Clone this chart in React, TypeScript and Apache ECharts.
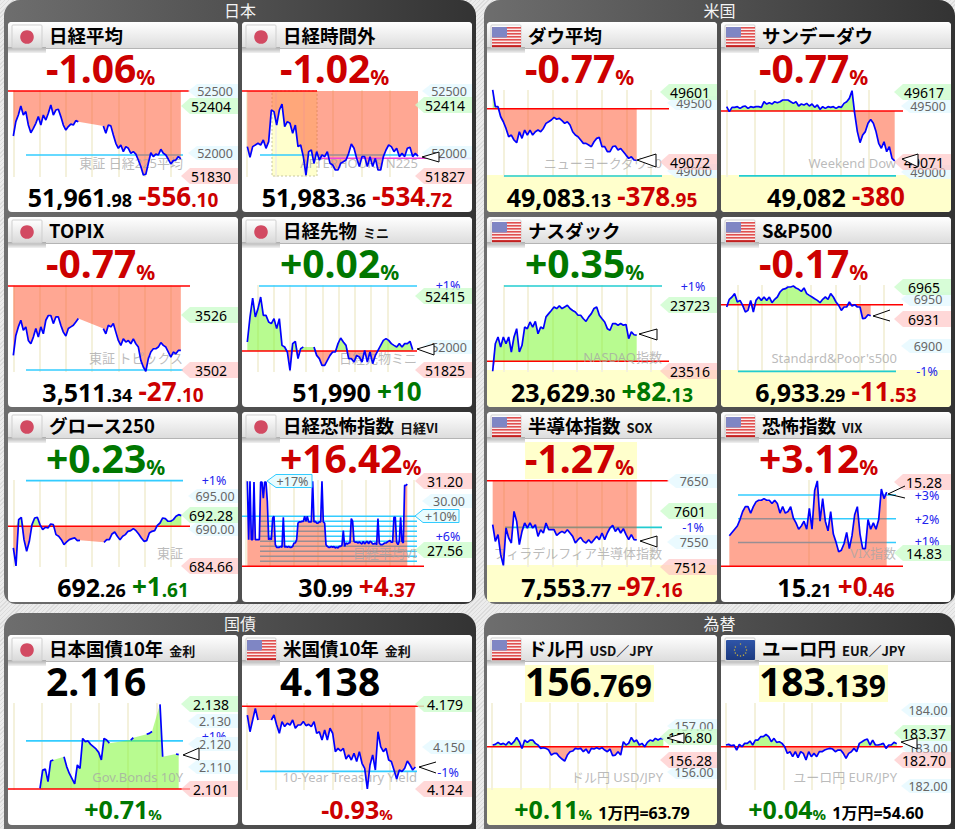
import React, { useEffect, useRef } from "react";
import * as echarts from "echarts";

// ---------- series values (null = no trade in that slot) ----------
const nikkeiValues = [52149,52267,52321,52395,52321,52349,52239,52176,52212,52253,52308,52239,52321,52280,52335,52404,52321,52362,52368,52308,52239,52198,52226,52247,52239,52275,52265,null,null,null,null,null,null,null,null,null,52231,52171,52239,52232,52157,52089,52048,52075,52021,52062,52048,52007,52021,52001,51952,51898,51830,51835,51925,52012,51980,52001,51993,52040,52007,51993,51958,51920,51947,51952,51980,51962];
const nightValues = [52062,51974,52062,52075,52089,52075,52116,52048,52103,52362,52349,52239,52362,52411,52226,52267,52253,52171,52239,52062,52075,51980,51827,52021,52034,51925,52021,51952,51993,51980,52021,51925,51911,51870,51870,51925,51938,51952,52007,52083,52048,51966,51898,51980,51980,51898,51980,51898,51966,51870,51870,51980,52034,52075,52062,52021,52048,51980,52007,51980,52048,52056,51980,52007,51983];
const dowValues = [49601,49477,49477,49403,49366,49317,49256,49268,49232,49212,49293,49244,49305,49268,49305,49268,49293,49305,49293,49317,49354,49366,49379,49398,49384,49391,49374,49354,49366,49342,49293,49268,49256,49232,49207,49207,49195,49183,49219,49244,49251,49183,49183,49146,49146,49183,49188,49158,49170,49146,49121,49097,49109,49085,49083];
const sundayDowValues = [49495,49457,49490,49490,49495,49482,49495,49500,49482,49495,49490,49495,49495,49490,49533,49515,49525,49515,49533,49525,49533,49546,49546,49546,49533,49520,49533,49500,49515,49508,49520,49500,49515,49490,49508,49475,49495,49482,49495,49490,49495,49482,49495,49490,49520,49533,49558,49617,49444,49305,49221,49279,49305,49368,49398,49368,49305,49216,49178,49228,49152,49190,49101,49082];
const topixValues = [3509.2,3517.6,3521.2,3524,3519.8,3521.2,3515.5,3514.1,3516.9,3520.5,3516.9,3521.2,3518.3,3524,3526,3526,3522.6,3525.4,3525.4,3521.9,3519,3517.4,3520.5,3521.2,3521.9,3523.3,3524.7,null,null,null,null,null,null,null,null,null,3520.5,3518.3,3521.9,3521.2,3522.6,3519,3515.5,3513.4,3516.2,3514.8,3515.5,3514.1,3516.2,3514.1,3512.7,3507.1,3504.3,3502.5,3507.8,3510.6,3512,3512,3512.7,3514.6,3513.4,3512.7,3510.6,3508.5,3510.6,3509.9,3511.3,3511.3];
const futuresValues = [52052,52252,52404,52252,52319,52412,52265,52265,52212,52199,52239,52159,52239,52025,52012,51972,51825,52039,52057,51919,51999,52012,null,null,null,52012,51945,51919,51865,51865,51905,51945,51972,51972,52039,52084,52052,52025,51919,51919,51892,51945,51932,51892,51985,51892,51972,51879,51945,51985,52025,52065,52079,52065,52039,52025,52012,52039,52012,52039,52039,52057,51990];
const nasdaqValues = [23516,23602,23623,23592,23623,23602,23623,23576,23623,23649,23576,23597,23654,23649,23670,23654,23672,23633,23654,23649,23686,23696,23706,23717,23712,23720,23712,23717,23722,23712,23706,23701,23691,23691,23680,23672,23686,23696,23712,23717,23691,23680,23670,23649,23644,23665,23665,23660,23665,23660,23662,23618,23639,23630,23629];
const spxValues = [6942.4,6950.4,6952.8,6956.3,6947.6,6949.3,6944.1,6937.2,6938.9,6949.3,6937.2,6949.3,6952.8,6949.3,6952.8,6949.3,6952.8,6946.9,6950.4,6952.8,6958,6960.8,6961.5,6963.2,6963.2,6964.2,6962.2,6960.8,6958.7,6962.2,6956.3,6954.5,6952.8,6951,6949.3,6946.9,6950.4,6952.8,6950.4,6956.3,6952.8,6947.6,6944.1,6938.9,6942.4,6942.4,6947.6,6943.4,6944.8,6942.4,6942.4,6930.2,6930.9,6934.4,6933.3];
const growthValues = [687.37,684.66,691.66,692.01,688.63,686.87,688.38,690.9,691.91,692.01,690.9,690.15,690.5,690.4,691,690.9,689.39,689.14,688.63,687.88,688.28,688.63,688.79,688.89,688.48,688.53,null,null,null,null,null,null,null,null,688.23,688.63,688.63,689.49,689.79,689.14,688.63,689.14,689.39,689.89,689.99,690.3,689.99,689.49,688.89,688.38,688.48,689.64,689.89,689.99,690.8,691.15,691.91,691.81,691.41,691.41,691.66,692.16,692.41,692.26];
const nikkeiViValues = [31.14,28.04,31.14,28.04,28.04,31.1,28.04,28.04,28.04,28.04,31.1,31.1,30.25,31.1,31.1,30.08,28.04,28.13,28.04,29.19,29.28,27.77,27.63,27.63,27.63,27.68,27.63,29.23,27.63,27.68,27.63,27.67,27.63,27.63,27.67,27.86,27.86,28.04,28.92,28.98,28.98,29.01,29.01,29.28,29.01,29.28,28.98,28.98,28.98,31.14,28.98,29.01,28.92,28.92,28.98,28.98,31.14,28.98,28.92,27.77,27.68,27.63,27.63,27.67,27.63,27.67,27.6,27.63,27.6,27.68,27.68,27.74,28.52,27.68,27.86,27.81,27.86,27.86,29.16,29.01,27.95,27.9,27.91,27.86,27.91,27.86,27.81,27.95,27.81,27.9,27.95,27.81,27.95,27.91,27.81,27.81,27.86,27.77,29.16,27.86,27.77,27.77,27.81,27.86,27.86,27.91,27.95,27.99,27.9,27.9,29.23,29.23,27.9,27.77,27.95,29.23,27.95,27.86,30.93,30.93,30.99];
const soxValues = [7578.8,7551.4,7562.4,7529.6,7512,7573.3,7556.9,7548.7,7600.6,7584.2,7546,7567.8,7581.5,7573.3,7581.5,7573.3,7578.8,7559.6,7570.5,7565.1,7581.5,7570.5,7570.5,7570.5,7561.3,7565.1,7567.8,7565.1,7570.5,7565.1,7559.6,7548.7,7554.2,7558,7551.4,7548.7,7554.2,7548.7,7554.2,7559.6,7554.2,7565.1,7554.2,7565.1,7573.3,7577.7,7567.8,7573.3,7565.1,7572.2,7562.4,7554.2,7562.4,7554.2,7553.8];
const vixValues = [14.94,14.96,14.98,15,15.04,15.09,15.12,15.12,15.08,15.12,15.15,15.16,15.16,15.17,15.16,15.16,15.14,15.16,15.14,15.08,15.12,15.08,15.09,15.12,15.05,15.02,14.98,15,15.03,14.98,15.11,14.98,15.22,15.28,15.03,15.17,15.03,14.97,15.09,14.95,14.9,14.84,14.85,14.89,14.96,14.86,14.94,15.07,15.12,14.95,14.86,14.86,15.04,14.98,15.02,14.98,15.04,15.23,15.17,15.21];
const jgbValues = [2.1013,2.1093,2.1097,2.1042,2.1132,2.1137,null,null,null,2.1151,2.1108,2.1078,2.1055,2.1032,2.1115,2.11,2.1231,2.1217,2.122,2.1205,2.1195,2.1185,2.117,2.1137,2.1231,2.1224,2.121,null,null,null,null,null,null,null,2.1224,2.1234,null,null,null,null,2.1249,2.1253,2.1261,null,null,2.138,2.1151,null,null,null,null,2.1163,2.116];
const ustValues = [4.1714,4.1607,4.1682,4.1757,4.1682,null,null,null,null,4.1682,4.1714,4.165,4.1597,4.1672,4.164,4.1661,4.165,4.1682,4.1629,4.165,4.165,4.1672,4.1646,4.1654,4.164,4.1672,4.1597,4.1607,4.1554,4.1618,4.1554,4.1629,4.1597,4.1479,4.15,4.1483,4.15,4.1432,4.1458,4.1425,4.1468,4.1415,4.1479,4.1404,4.1372,4.1239,4.1393,4.1458,4.1361,4.1607,4.1511,4.1479,4.15,4.1425,4.1415,4.1361,4.1303,4.1361,4.1351,4.1372,4.1419,4.1393,4.1361,4.138];
const usdJpyValues = [156.634,156.648,156.692,156.648,156.67,156.634,156.707,156.648,156.707,156.8,156.707,156.56,156.743,156.692,156.743,156.743,156.67,156.634,156.56,156.575,156.56,156.524,156.414,156.451,156.451,156.378,156.327,156.28,156.414,156.487,156.502,156.56,156.546,156.56,156.487,156.546,156.451,156.56,156.546,156.575,156.546,156.575,156.524,156.487,156.546,156.4,156.414,156.487,156.414,156.707,156.634,156.67,156.8,156.707,156.743,156.634,156.67,156.597,156.692,156.743,156.721,156.78,156.743,156.78,156.769];
const eurJpyValues = [183.108,183.124,183.091,183.108,182.983,183.124,183.066,183.149,183.149,183.207,183.108,183.232,183.232,183.315,183.315,183.37,183.315,183.19,183.274,183.174,183.19,183.149,183.066,182.9,182.942,182.817,182.942,182.792,182.942,182.9,182.734,182.942,182.817,182.9,182.817,182.942,182.942,182.983,183.008,183.025,183.008,182.942,182.983,182.983,182.9,182.775,182.9,182.942,183.025,182.942,183.149,183.19,183.232,183.257,183.108,183.232,183.108,183.108,183.124,183.149,183.025,183.108,183.108,183.174,183.139];

// ---------- previous closes ----------
const prevCloses = [52518,52518,49462,49462,3538.44,51980,23547,6944.8,690.65,26.62,7650.9,14.75,2.101,4.177,156.597,183.066];

// ---------- tag labels ----------
const nikkeiTags = ["52500","52404","52000","51830"];
const nightTags = ["52500","52414","52000","51827"];
const dowTags = ["49500","49601","49000","49072"];
const sundayTags = ["49500","49617","49000","49071"];
const topixTags = ["3526","3502"];
const futuresTags = ["+1%","52415","52000","51825"];
const nasdaqTags = ["+1%","23723","23516"];
const spxTags = ["6950","6965","6931","6900","-1%"];
const growthTags = ["+1%","695.00","690.00","692.28","684.66"];
const viTags = ["31.20","30.00","+10%","+6%","27.56"];
const soxTags = ["7650","7601","-1%","7550","7512"];
const vixTags = ["15.28","+3%","+2%","+1%","14.83"];
const jgbTags = ["+1%","2.130","2.120","2.110","2.138","2.101"];
const ustTags = ["4.150","4.179","-1%","4.124"];
const usdTags = ["157.00","156.00","156.80","156.28"];
const eurTags = ["184.00","183.00","182.00","183.37","182.70"];

const RED = "#cc0000";
const GREEN = "#007700";
const BLACK = "#000000";
const LATIN = '"Noto Sans","Noto Sans CJK JP",sans-serif';
const JP = '"Noto Sans CJK JP","Noto Sans",sans-serif';

const COLS = [8, 242, 487, 721];
const ROWS = [22, 217, 412, 635];
const CARD_W = 230;
const CARD_H = 190;

type Tok = [string, number, string];
const money = (a: string, b: string, c: string, d: string, col: string): Tok[] => [
  [a, 25, BLACK], [b, 18, BLACK], ["  ", 12, BLACK], [c, 26, col], [d, 19, col],
];
const pctBig = (a: string, col: string): Tok[] => [[a, 39, col], ["%", 21, col]];
const tags = (texts: string[], ys: number[], kinds: string) => texts.map((t, i) => ({ t, y: ys[i], k: kinds[i] }));

const panels: any[] = [
  { c: 0, r: 0, title: "日経平均", flag: "jp", big: pctBig("-1.06", RED), bottom: money("51,961", ".98", "-556", ".10", RED), values: nikkeiValues, start: 13.33, step: 2.5, first: 13.3, space: 26.3, last: 171, baseY: 91, vpp: 8.2, pcts: [[-1, 26, 183]], water: ["東証 日経225平均", 183, 163], tags: tags(nikkeiTags, [91, 106, 153, 176], "bgbr") },
  { c: 1, r: 0, title: "日経時間外", flag: "jp", big: pctBig("-1.02", RED), bottom: money("51,983", ".36", "-534", ".72", RED), values: nightValues, start: 247.33, step: 2.667, first: 247, space: 28.6, last: 390, baseY: 91, vpp: 8.2, baseTo: 317, pcts: [[-1, 260, 418]], water: ["AFTERHOURS N225", 418, 163], tags: tags(nightTags, [91, 105, 153, 176], "bgbr"), marker: [[422, 157], [439, 152], [439, 162]], night: true },
  { c: 2, r: 0, title: "ダウ平均", flag: "us", big: pctBig("-0.77", RED), bottom: money("49,083", ".13", "-378", ".95", RED), values: dowValues, start: 492.67, step: 2.667, first: 503.3, space: 24.6, last: 651, baseY: 108.7, vpp: 7.35, pcts: [[-1, 504, 662]], water: ["ニューヨークダウ30", 662, 163], tags: tags(dowTags, [103, 92, 171, 162], "bgbr"), marker: [[637, 160], [656, 154], [656, 167]], band: true },
  { c: 3, r: 0, title: "サンデーダウ", flag: "us", big: pctBig("-0.77", RED), bottom: [["49,082", 25, BLACK], ["  ", 12, BLACK], ["-380", 26, RED]], values: sundayDowValues, start: 726.67, step: 2.667, first: 726.7, space: 28.5, last: 869, baseY: 111, vpp: 7.62, pcts: [[-1, 739, 896]], water: ["Weekend Dow", 896, 163], tags: tags(sundayTags, [106, 92, 172, 162], "bgbr"), marker: [[902, 159], [918, 154], [918, 167]], band: true },
  { c: 0, r: 1, title: "TOPIX", flag: "jp", big: pctBig("-0.77", RED), bottom: money("3,511", ".34", "-27", ".10", RED), values: topixValues, start: 13.33, step: 2.5, first: 13.3, space: 26.3, last: 171, baseY: 286, vpp: 0.4215, pcts: [[-1, 26, 183]], water: ["東証 トピックス", 183, 358], tags: tags(topixTags, [315, 370], "gr") },
  { c: 1, r: 1, title: "日経先物", sub: "ミニ", flag: "jp", big: pctBig("+0.02", GREEN), bottom: [["51,990", 25, BLACK], ["  ", 12, BLACK], ["+10", 26, GREEN]], values: futuresValues, start: 247.33, step: 2.667, first: 257.3, space: 16.25, last: 403, baseY: 351, vpp: 8, baseW: 175, pcts: [[1, 259, 417]], water: ["日経先物ミニ", 417, 358], tags: tags(futuresTags, [285, 296, 347, 370], "tgbr"), marker: [[417, 349], [434, 344], [434, 355]] },
  { c: 2, r: 1, title: "ナスダック", flag: "us", big: pctBig("+0.35", GREEN), bottom: money("23,629", ".30", "+82", ".13", GREEN), values: nasdaqValues, start: 492.67, step: 2.667, first: 503.3, space: 24.6, last: 651, baseY: 361.3, vpp: 3.126, pcts: [[1, 504, 662]], water: ["NASDAQ指数", 662, 357], tags: tags(nasdaqTags, [286, 305, 371], "tgr"), marker: [[639, 334], [657, 329], [657, 340]], band: true },
  { c: 3, r: 1, title: "S&P500", flag: "us", big: pctBig("-0.17", RED), bottom: money("6,933", ".29", "-11", ".53", RED), values: spxValues, start: 726.67, step: 2.667, first: 737.7, space: 24.4, last: 884, baseY: 304.7, vpp: 1.041, pcts: [[-1, 738, 896]], water: ["Standard&Poor's500", 897, 358], tags: tags(spxTags, [299, 287, 319, 346, 371], "bgrbt"), marker: [[890, 310], [873, 316], [890, 321]], open: true, band: true },
  { c: 0, r: 2, title: "グロース250", flag: "jp", big: pctBig("+0.23", GREEN), bottom: money("692", ".26", "+1", ".61", GREEN), values: growthValues, start: 13.33, step: 2.667, first: 13.3, space: 26.3, last: 171, baseY: 526.3, vpp: 0.1512, pcts: [[1, 26, 183]], water: ["東証", 183, 553], tags: tags(growthTags, [480, 496, 529, 515, 566], "tbbgr") },
  { c: 1, r: 2, title: "日経恐怖指数", sub: "日経VI", flag: "jp", big: pctBig("+16.42", RED), bottom: money("30", ".99", "+4", ".37", RED), values: nikkeiViValues, start: 247.33, step: 1.333, first: 246, space: 24, last: 414, baseY: 566.3, vpp: 0.0532, upRed: true, pcts: [[1, 260, 417], [2, 260, 417], [3, 260, 417], [4, 260, 417], [5, 260, 417], [6, 260, 417], [7, 260, 417], [8, 260, 417], [9, 260, 417], [10, 242, 417]], water: ["日経平均VI", 417, 553], tags: tags(viTags, [481, 501, 516, 536, 550], "rbctg"), floatTag: ["+17%", 267, 312, 481] },
  { c: 2, r: 2, title: "半導体指数", sub: "SOX", flag: "us", big: pctBig("-1.27", RED), bottom: money("7,553", ".77", "-97", ".16", RED), values: soxValues, start: 492.67, step: 2.667, first: 503.3, space: 24.6, last: 651, baseY: 480.7, vpp: 1.64, pcts: [[-1, 505, 662]], water: ["フィラデルフィア半導体指数", 662, 553], tags: tags(soxTags, [481, 511, 527, 542, 567], "bgtbr"), marker: [[640, 541], [657, 536], [657, 547]], band: true, hi: [525, 442, 112, 37] },
  { c: 3, r: 2, title: "恐怖指数", sub: "VIX", flag: "us", big: pctBig("+3.12", RED), bottom: money("15", ".21", "+0", ".46", RED), values: vixValues, start: 729.33, step: 2.667, first: 809, space: 100, last: 809, baseY: 566.3, vpp: 0.006207, upRed: true, pcts: [[1, 738, 896], [2, 738, 896], [3, 738, 896]], water: ["VIX指数", 896, 553], tags: tags(vixTags, [482, 495, 519, 541, 553], "rtttg"), marker: [[905, 486], [888, 494], [905, 498]], open: true },
  { c: 0, r: 3, title: "日本国債10年", sub: "金利", flag: "jp", big: [["2.116", 39, BLACK]], bottom: [["+0.71", 25, GREEN], ["%", 15, GREEN]], values: jgbValues, start: 40, step: 2.667, first: 13.3, space: 28.6, last: 156, baseY: 789, vpp: 0.000437, pcts: [[1, 26, 183]], water: ["Gov.Bonds 10Y", 183, 777], tags: tags(jgbTags, [736, 721, 744, 767, 704, 789], "tbbbgr"), marker: [[183, 755], [199, 748], [199, 760]] },
  { c: 1, r: 3, title: "米国債10年", sub: "金利", flag: "us", big: [["4.138", 39, BLACK]], bottom: [["-0.93", 25, RED], ["%", 15, RED]], values: ustValues, start: 247.33, step: 2.667, first: 246.7, space: 28.7, last: 390, baseY: 706.3, vpp: 0.000642, pcts: [[-1, 260, 417]], water: ["10-Year Treasury Yield", 417, 777], tags: tags(ustTags, [747, 704, 772, 789], "bgtr"), marker: [[436, 762], [419, 767], [436, 773]], open: true },
  { c: 2, r: 3, title: "ドル円", sub: "USD／JPY", flag: "us", big: [["156", 39, BLACK], [".769", 30, BLACK]], bottom: [["+0.11", 25, GREEN], ["%", 15, GREEN], ["  ", 12, BLACK], ["1万円=63.79", 16, BLACK]], values: usdJpyValues, start: 492.67, step: 2.667, first: 492, space: 28.7, last: 636, baseY: 746.7, vpp: 0.0219, pcts: [], water: ["ドル円 USD/JPY", 663, 777], tags: tags(usdTags, [726, 772, 737, 760], "bbgr"), marker: [[667, 738], [684, 733], [684, 743]], band: true, hi: [525, 665, 129, 37] },
  { c: 3, r: 3, title: "ユーロ円", sub: "EUR／JPY", flag: "eu", big: [["183", 39, BLACK], [".139", 30, BLACK]], bottom: [["+0.04", 25, GREEN], ["%", 15, GREEN], ["  ", 12, BLACK], ["1万円=54.60", 16, BLACK]], values: eurJpyValues, start: 726, step: 2.667, first: 726, space: 28.7, last: 869, baseY: 746.7, vpp: 0.0249, pcts: [], water: ["ユーロ円 EUR/JPY", 897, 777], tags: tags(eurTags, [710, 748, 786, 733, 760], "bbbgr"), marker: [[901, 742], [917, 738], [917, 749]], hi: [759, 665, 129, 37] },
];

const FILL_RED = "rgba(255,80,40,0.5)";
const FILL_GREEN = "rgba(113,247,33,0.5)";

function richText(tokens: Tok[], fontFamily: string, prefix = "a") {
  const rich: any = {};
  let text = "";
  tokens.forEach((tk, i) => {
    rich[prefix + i] = { fontSize: tk[1], fontWeight: "bold", fontFamily, fill: tk[2], verticalAlign: "bottom", lineHeight: 44 };
    text += `{${prefix}${i}|${tk[0]}}`;
  });
  return { rich, text };
}

function buildOption() {
  const els: any[] = [];
  const txt = (x: number, y: number, text: string, z: number, size: number, fill: string, align = "center", weight = "normal", family = LATIN) =>
    els.push({ type: "text", x, y, z, silent: true, style: { text, fill, fontSize: size, fontWeight: weight, fontFamily: family, align, verticalAlign: "middle", textAlign: align, textVerticalAlign: "middle" } });
  const rect = (x: number, y: number, width: number, height: number, z: number, fill: any, r: any = 0, stroke?: string, dash?: any) =>
    els.push({ type: "rect", z, silent: true, shape: { x, y, width, height, r }, style: { fill, stroke, lineWidth: stroke ? 1 : 0, lineDash: dash } });
  const vGrad = (a: string, b: string) => ({ type: "linear", x: 0, y: 0, x2: 0, y2: 1, colorStops: [{ offset: 0, color: a }, { offset: 1, color: b }] });
  const hGrad = (a: string, b: string) => ({ type: "linear", x: 0, y: 0, x2: 1, y2: 0, colorStops: [{ offset: 0, color: a }, { offset: 1, color: b }] });

  // section frames
  const sections: [number, number, number, number, string][] = [
    [4, 0, 472, 604, "日本"], [484, 0, 471, 604, "米国"], [4, 613, 472, 230, "国債"], [484, 613, 471, 230, "為替"],
  ];
  sections.forEach(([x, y, w, h, label]) => {
    rect(x, y, w, h, 0, hGrad("#6e6e6e", "#333333"), [16, 16, 12, 12]);
    txt(x + w / 2, y === 0 ? 10 : 623, label, 1, 16, "#f4f4f4", "center", "normal", JP);
  });

  const grid: any[] = [], xAxis: any[] = [], yAxis: any[] = [], series: any[] = [];

  panels.forEach((p, i) => {
    const cx = COLS[p.c], cy = ROWS[p.r];
    const base = prevCloses[i];

    // card
    rect(cx, cy, CARD_W, CARD_H, 1, "#ffffff", 4);
    if (p.band) rect(cx, cy + 153, CARD_W, CARD_H - 153, 2, "#ffffcc", [0, 0, 4, 4]);
    if (p.hi) rect(p.hi[0], p.hi[1], p.hi[2], p.hi[3], 2, "#ffffcc");
    // header
    rect(cx, cy, CARD_W, 26, 2, vGrad("#ffffff", "#dddddd"), [4, 4, 0, 0]);
    rect(cx + 38, cy + 26, CARD_W - 38, 1, 2, "#b4b4b4");
    rect(cx, cy + 25, 38, 6, 2, vGrad("#aaaaaa", "#f2f2f2"));
    rect(cx + 4, cy + 3, 30, 23, 2, vGrad("#ffffff", "#d8d8d8"), 1, "#cfcfcf");
    if (p.flag === "jp") {
      els.push({ type: "circle", z: 3, silent: true, shape: { cx: cx + 19, cy: cy + 15, r: 6.8 }, style: { fill: "#d24a62" } });
    } else if (p.flag === "us") {
      rect(cx + 5, cy + 5, 29, 20, 3, "#fbeaea", 1);
      for (let s = 0; s < 7; s++) rect(cx + 5, cy + 5 + s * 3, 29, 1.6, 3, "#e05050");
      rect(cx + 5, cy + 23.4, 29, 1.8, 3, "#c02020");
      rect(cx + 5, cy + 5, 15, 10.5, 3, "#7f86c4", 1);
    } else {
      rect(cx + 5, cy + 5, 29, 20, 3, vGrad("#2f55a8", "#1c3a80"), 1);
      for (let s = 0; s < 12; s++) {
        const a = (s / 12) * Math.PI * 2;
        els.push({ type: "circle", z: 3, silent: true, shape: { cx: cx + 19.5 + Math.cos(a) * 6, cy: cy + 15 + Math.sin(a) * 6, r: 0.7 }, style: { fill: "#c8b040" } });
      }
    }
    // title
    const tt = richText([[p.title, 18.5, BLACK]].concat(p.sub ? [["  " + p.sub, 13, "#111111"]] : []) as Tok[], JP, "t");
    Object.values(tt.rich).forEach((s: any) => { s.lineHeight = 24; });
    els.push({ type: "text", x: cx + 41, y: cy + 10, z: 4, silent: true, style: { text: tt.text, rich: tt.rich, align: "left", verticalAlign: "middle", textAlign: "left", textVerticalAlign: "middle" } });
    // big figure
    const bg = richText(p.big, LATIN, "b");
    els.push({ type: "text", x: cx + 38, y: cy + 43, z: 11, silent: true, style: { text: bg.text, rich: bg.rich, align: "left", verticalAlign: "middle", textAlign: "left", textVerticalAlign: "middle" } });
    // bottom figure
    const bt = richText(p.bottom, LATIN, "c");
    Object.values(bt.rich).forEach((s: any) => { s.lineHeight = 30; });
    els.push({ type: "text", x: cx + 115, y: cy + (p.r === 3 ? 171 : 172), z: 11, silent: true, style: { text: bt.text, rich: bt.rich, align: "center", verticalAlign: "middle", textAlign: "center", textVerticalAlign: "middle" } });

    // night-session box
    if (p.night) rect(272, cy + 69, 45, 85, 2, "#ffffcc", 0, "#c8c8a0", [2, 2]);

    // grid and axes: each x-axis spans its card, gridlines are listed as custom ticks
    const top = cy + 68, height = 87;
    const xOf = (px: number) => (px - cx) / p.step;
    const off = xOf(p.start);
    const yMax = base + (p.baseY - top) * p.vpp;
    const yMin = base - (top + height - p.baseY) * p.vpp;
    const gridTicks: number[] = [];
    for (let g = p.first; g <= p.last + 0.5; g += p.space) gridTicks.push(xOf(g));
    grid.push({ left: cx, top, width: CARD_W, height, containLabel: false, show: false, outerBoundsMode: "none" });
    xAxis.push({
      type: "value", gridIndex: i, min: 0, max: CARD_W / p.step, z: 3,
      axisLine: { show: false }, axisTick: { show: false, customValues: gridTicks }, axisLabel: { show: false },
      splitLine: { show: true, showMinLine: true, showMaxLine: true, lineStyle: { color: "#f4f1dc", width: 2 } },
    });
    yAxis.push({ type: "value", gridIndex: i, min: yMin, max: yMax, show: false });

    const common = { type: "line", xAxisIndex: i, yAxisIndex: i, showSymbol: false, symbol: "none", clip: false, silent: true, animation: false };
    const pts = p.values.map((v: number | null, k: number) => [off + k, v]);
    const solid = pts.filter((d: any) => d[1] !== null);

    // percent lines
    p.pcts.forEach((q: number[]) => {
      const v = base * (1 + q[0] / 100);
      series.push({ ...common, z: 4, lineStyle: { color: p.band ? "#22ccd0" : "#33ccff", width: 1.6 }, data: [[xOf(q[1]), v], [xOf(q[2]), v]] });
    });
    // fills either side of the previous close
    series.push({ ...common, z: 5, lineStyle: { width: 0 }, areaStyle: { origin: base, opacity: 1, color: p.upRed ? FILL_RED : FILL_GREEN }, data: solid.map((d: any) => [d[0], Math.max(d[1], base)]) });
    series.push({ ...common, z: 5, lineStyle: { width: 0 }, areaStyle: { origin: base, opacity: 1, color: FILL_RED }, data: solid.map((d: any) => [d[0], Math.min(d[1], base)]) });
    // previous close
    const baseEnd = p.baseTo || cx + (p.baseW || 182);
    series.push({ ...common, z: 6, lineStyle: { color: "#ff0000", width: 1.6 }, data: [[xOf(cx), base], [xOf(baseEnd), base]] });
    if (p.night) {
      const v = base - (158.3 - p.baseY) * p.vpp;
      series.push({ ...common, z: 6, lineStyle: { color: "#ee44dd", width: 1.6 }, data: [[xOf(318), v], [xOf(471.9), v]] });
    }
    // price line
    series.push({ ...common, z: 8, connectNulls: false, lineStyle: { color: "#0000ff", width: 1.7 }, data: pts });

    // watermark
    txt(p.water[1], p.water[2], p.water[0], 7, 13, "rgba(165,165,165,0.75)", "right", "normal");

    // tags
    p.tags.forEach((tg: any) => {
      if (tg.k === "t") { txt(cx + 206, tg.y, tg.t, 9, 12.5, "#2222ee"); return; }
      if (tg.k === "c") {
        els.push({ type: "polygon", z: 9, silent: true, shape: { points: [[cx + 173, tg.y], [cx + 181, tg.y - 6.5], [cx + 217, tg.y - 6.5], [cx + 217, tg.y + 6.5], [cx + 181, tg.y + 6.5]] }, style: { fill: "#e8fcff", stroke: "#33ccff", lineWidth: 1 } });
        txt(cx + 199, tg.y, tg.t, 9, 12.5, "#666666");
        return;
      }
      const tick = tg.k === "b";
      const fill = tick ? "rgba(232,250,255,0.9)" : tg.k === "g" ? "rgba(205,252,205,0.8)" : "rgba(255,195,195,0.65)";
      const tip = cx + (tick ? 180 : 173);
      const h = tick ? 7 : 8;
      els.push({ type: "polygon", z: 9, silent: true, shape: { points: [[tip, tg.y], [tip + 9, tg.y - h], [cx + 230, tg.y - h], [cx + 230, tg.y + h], [tip + 9, tg.y + h]] }, style: { fill } });
      txt(cx + (tick ? 207 : 203), tg.y, tg.t, 9, tick ? 12.5 : 14, tick ? "#666666" : "#000000");
    });
    if (p.floatTag) {
      const [t, a, b, y] = p.floatTag;
      els.push({ type: "polygon", z: 9, silent: true, shape: { points: [[a, y], [a + 9, y - 6.5], [b, y - 6.5], [b, y + 6.5], [a + 9, y + 6.5]] }, style: { fill: "#e8fcff", stroke: "#33ccff", lineWidth: 1 } });
      txt((a + b) / 2 + 3, y, t, 9, 12.5, "#666666");
    }
    // "now" pointer
    if (p.marker) {
      els.push({ type: p.open ? "polyline" : "polygon", z: 10, silent: true, shape: { points: p.marker }, style: { fill: p.open ? "none" : "#ffffff", stroke: "#000000", lineWidth: 1 } });
    }
  });

  return { animation: false, tooltip: { show: false }, grid, xAxis, yAxis, series, graphic: { elements: els } };
}

export default function App() {
  const ref = useRef<HTMLDivElement>(null);
  useEffect(() => {
    const chart = echarts.init(ref.current as HTMLDivElement, undefined, { renderer: "svg" });
    chart.setOption(buildOption() as any);
    return () => chart.dispose();
  }, []);
  return (
    <div
      ref={ref}
      style={{
        position: "absolute", left: 0, top: 0, width: 955, height: 829, overflow: "hidden",
        background: "repeating-linear-gradient(135deg,#dcdcdc 0 1px,#ececec 1px 3px)",
      }}
    />
  );
}
